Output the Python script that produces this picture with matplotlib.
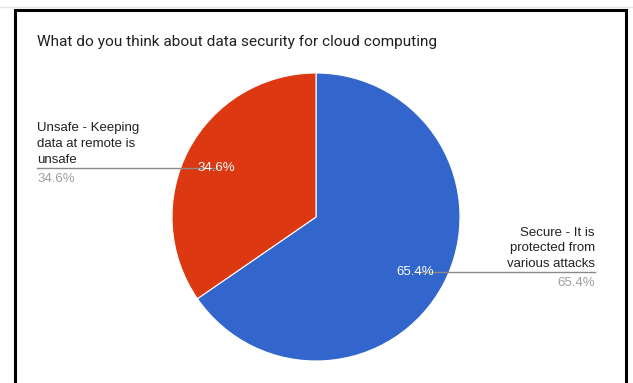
import matplotlib.pyplot as plt
from matplotlib.lines import Line2D

title = 'What do you think about data security for cloud computing'
labels = ['Secure - It is\nprotected from\nvarious attacks',
          'Unsafe - Keeping\ndata at remote is\nunsafe']
shares = [65.4, 34.6]
colors = ['#3366cc', '#dc3912']

W, H = 633, 383
fig = plt.figure(figsize=(W / 100, H / 100), dpi=100)
fig.patch.set_facecolor('white')

# axes in pixel units, origin bottom-left
ax = fig.add_axes([0, 0, 1, 1])

cx, cy, r = 316, H - 217, 144
wedges, _, pcts = ax.pie(shares, colors=colors, startangle=90, counterclock=False,
                         center=(cx, cy), radius=r, autopct='%.1f%%', pctdistance=0.78,
                         wedgeprops=dict(edgecolor='white', linewidth=0.8),
                         textprops=dict(color='white', fontsize=9.5, family='Liberation Sans'),
                         frame=True)
ax.set_xlim(0, W)
ax.set_ylim(0, H)
ax.set_aspect('equal')
ax.axis('off')

left_x, right_x = 37, 595
for lab, val, t in zip(labels, shares, pcts):
    x, y = t.get_position()
    y -= 3
    t.set_position((x, y))
    t.set_zorder(5)
    if x > cx:
        ax.plot([x, right_x], [y, y], color='#8a8a8a', lw=1, zorder=4)
        tx, ha = right_x, 'right'
    else:
        ax.plot([left_x, x], [y, y], color='#8a8a8a', lw=1, zorder=4)
        tx, ha = left_x, 'left'
    ax.text(tx, y + 2, lab, ha=ha, va='bottom', fontsize=9.5, color='#222222',
            family='Liberation Sans', linespacing=1.42)
    ax.text(tx, y - 5, f'{val:.1f}%', ha=ha, va='top', fontsize=9.5, color='#9e9e9e',
            family='Liberation Sans')

ax.text(37, H - 42, title, ha='left', va='center', fontsize=11.1, color='#212121',
        family='Roboto')

# frame around the chart card
fig.add_artist(Line2D([0, W], [H - 7, H - 7], transform=None, color='#e4e4e4', lw=1))
fig.add_artist(Line2D([14.5, 14.5, 626, 626], [-5, H - 9.5, H - 9.5, -5],
                      transform=None, color='black', lw=2.2, solid_joinstyle='miter'))

fig.savefig('out.png', dpi=100)
